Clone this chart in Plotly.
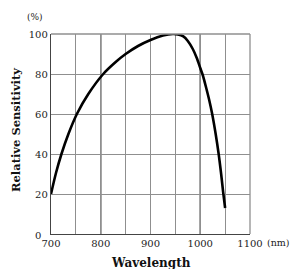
import plotly.graph_objects as go

wavelength = [700, 710, 721, 735, 752, 775, 805, 830, 850, 875, 900, 925, 945, 955, 966, 975, 985, 993, 1000, 1005, 1012, 1018, 1024, 1031, 1037, 1042, 1046, 1050]
sensitivity = [20, 30.5, 40, 50, 60, 70, 80, 86, 90, 94, 97, 99.2, 100, 99.8, 98.8, 96.5, 92.5, 88, 83, 79.5, 73, 67, 60, 50, 40, 30, 21, 13]

x_ticks = [700, 800, 900, 1000, 1100]
y_ticks = [20, 40, 60, 80, 100]
dark_grid_x = [800, 1000]

serif = "DejaVu Serif, Liberation Serif, serif"

fig = go.Figure()
fig.add_trace(go.Scatter(
    x=wavelength, y=sensitivity, mode="lines",
    line=dict(color="black", width=2.6, shape="spline", smoothing=0.8),
    hoverinfo="skip", showlegend=False))

for xv in dark_grid_x:
    fig.add_shape(type="line", xref="x", yref="y", x0=xv, x1=xv, y0=0, y1=100,
                  line=dict(color="#222", width=1.3), layer="below")

fig.update_layout(
    width=291, height=261,
    margin=dict(l=43, r=49, t=26, b=35),
    paper_bgcolor="white", plot_bgcolor="white",
    font=dict(family=serif, size=10, color="#222"),
    xaxis=dict(range=[700, 1100], tickvals=x_ticks, ticktext=["700", "800", "900", "1000", "1100"],
               showgrid=True, gridcolor="#8f8f8f", gridwidth=1.3,
               minor=dict(dtick=50, showgrid=True, gridcolor="#8f8f8f", gridwidth=1.3),
               zeroline=False, showline=True, linecolor="#444", linewidth=1.3,
               ticks="", ticklen=0, tickfont=dict(family=serif, size=10, color="#222")),
    yaxis=dict(range=[0, 100], tickvals=y_ticks, ticktext=[str(v) for v in y_ticks],
               showgrid=True, gridcolor="#8f8f8f", gridwidth=1.3,
               zeroline=False, showline=True, linecolor="#444", linewidth=1.3,
               ticks="", ticklen=0, tickfont=dict(family=serif, size=10, color="#222")),
    annotations=[
        dict(text="0", x=0, y=0, xref="paper", yref="paper", xanchor="right", yanchor="bottom",
             xshift=-8, yshift=-9, showarrow=False, font=dict(family=serif, size=10, color="#222")),
        dict(text="(%)", x=0, y=1, xref="paper", yref="paper", xanchor="center", yanchor="bottom",
             xshift=-16, yshift=10, showarrow=False, font=dict(family=serif, size=9, color="#222")),
        dict(text="(nm)", x=1, y=0, xref="paper", yref="paper", xanchor="left", yanchor="top",
             xshift=15, yshift=-1, showarrow=False, font=dict(family=serif, size=9.5, color="#222")),
        dict(text="<b>Wavelength</b>", x=0.5, y=0, xref="paper", yref="paper", xanchor="center",
             yanchor="top", yshift=-20, showarrow=False, font=dict(family=serif, size=12, color="#111")),
        dict(text="<b>Relative Sensitivity</b>", x=0, y=0.5, xref="paper", yref="paper",
             xanchor="center", yanchor="middle", xshift=-35, yshift=4, textangle=-90,
             showarrow=False, font=dict(family=serif, size=11.5, color="#111")),
    ],
)
# outer frame: top and right in grey
fig.add_shape(type="line", xref="paper", yref="paper", x0=0, x1=1, y0=1, y1=1,
              line=dict(color="#8f8f8f", width=1.3))
fig.add_shape(type="line", xref="paper", yref="paper", x0=1, x1=1, y0=0, y1=1,
              line=dict(color="#8f8f8f", width=1.3))

fig.write_html("out.html")
